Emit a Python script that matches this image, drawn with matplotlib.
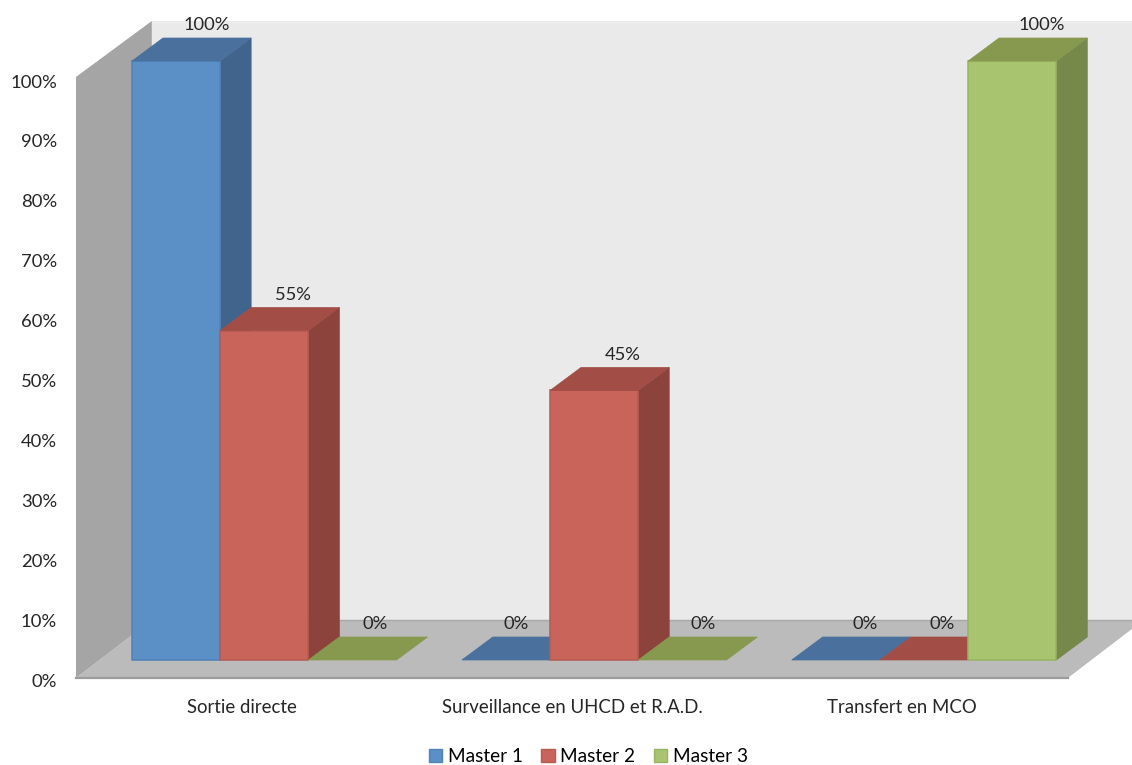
import matplotlib
matplotlib.use('Agg')
import matplotlib.pyplot as plt
from matplotlib.patches import Patch, Polygon

plt.rcParams['font.family'] = ['Lato', 'DejaVu Sans']

# Chart values
categories = ['Sortie directe', 'Surveillance en UHCD et R.A.D.', 'Transfert en MCO']
series_names = ['Master 1', 'Master 2', 'Master 3']
master_1 = [100, 0, 0]
master_2 = [55, 45, 0]
master_3 = [0, 0, 100]
y_ticks = [0, 10, 20, 30, 40, 50, 60, 70, 80, 90, 100]

# Face, top and side colours of each series
front_colors = ['#5B90C6', '#C9645A', '#A9C46E']
edge_colors = ['#4F83BA', '#B85A50', '#98B362']
top_colors = ['#4A709D', '#A24E46', '#87994F']
side_colors = ['#41648D', '#8B433B', '#76894A']

# x is in bar widths, y is in percent, 0,0 is the foot of the first bar
group_step = 3.74
depth_x = 0.351
depth_y = 3.84
label_nudge = [[0.85, 0.83, 0.76], [0.62, 0.82, 0.74], [0.83, 0.71, 0.83]]

fig = plt.figure(figsize=(11.32, 7.65), dpi=100)
ax = fig.add_axes([0, 0, 1, 1])
ax.set_xlim(-132 / 88.2, 1000 / 88.2)
ax.set_ylim(-105 / 5.99, 660 / 5.99)
ax.axis('off')

# Box behind the bars: back wall, floor and left wall
wall_l, wall_r = -0.635, 10.61
back_l = wall_l + 0.86
back_r = wall_r + 0.86
floor_front, floor_back = -3.0, 6.68
wall_top_front, wall_top_back = 97.33, 106.68
ax.add_patch(Polygon([(back_l, floor_back), (back_l, wall_top_back), (back_r, wall_top_back), (back_r, floor_back)],
                     fc='#EAEAEA', ec='none', zorder=0))
ax.add_patch(Polygon([(wall_l, floor_front), (back_l, floor_back), (back_r, floor_back), (wall_r, floor_front)],
                     fc='#BBBBBB', ec='none', zorder=0.1))
ax.plot([back_l, back_r], [floor_back, floor_back], color='#A8A8A8', lw=1, zorder=0.2)
ax.plot([wall_l, wall_r], [floor_front, floor_front], color='#9C9C9C', lw=1.6, zorder=0.2)
ax.add_patch(Polygon([(wall_l, floor_front), (wall_l, wall_top_front), (back_l, wall_top_back), (back_l, floor_back)],
                     fc='#A5A5A5', ec='none', zorder=0.3))


def draw_bar(x, value, s):
    # Front, side and top of one extruded bar
    if value > 0:
        ax.add_patch(Polygon([(x + 1, 0), (x + 1 + depth_x, depth_y), (x + 1 + depth_x, value + depth_y), (x + 1, value)],
                             fc=side_colors[s], ec=side_colors[s], lw=0.5))
        ax.add_patch(Polygon([(x, 0), (x + 1, 0), (x + 1, value), (x, value)],
                             fc=front_colors[s], ec=edge_colors[s], lw=1.1))
    ax.add_patch(Polygon([(x, value), (x + 1, value), (x + 1 + depth_x, value + depth_y), (x + depth_x, value + depth_y)],
                         fc=top_colors[s], ec=top_colors[s], lw=0.5))


all_series = [master_1, master_2, master_3]
for c in range(len(categories)):
    for s, values in enumerate(all_series):
        x = c * group_step + s
        draw_bar(x, values[c], s)
        ax.text(x + label_nudge[c][s], values[c] + 6.0, f'{values[c]}%', ha='center', va='center',
                fontsize=13.2, color='#262626')

# Value axis labels sit along the front edge of the left wall
for t in y_ticks:
    ax.text(-0.85, t - 3.6, f'{t}%', ha='right', va='center', fontsize=13.3, color='#262626')

# Category names under the floor
for c, name in enumerate(categories):
    ax.text(c * group_step + 1.25, -7.85, name, ha='center', va='center', fontsize=13.4, color='#262626')

handles = [Patch(fc=front_colors[s], ec=edge_colors[s], label=series_names[s]) for s in range(3)]
ax.legend(handles=handles, ncol=3, loc='center', bbox_to_anchor=(0.5197, 0.0105), frameon=False,
          fontsize=13.7, handlelength=0.7, handleheight=0.7, handletextpad=0.3, columnspacing=0.98)

fig.savefig('out.png', dpi=100)
